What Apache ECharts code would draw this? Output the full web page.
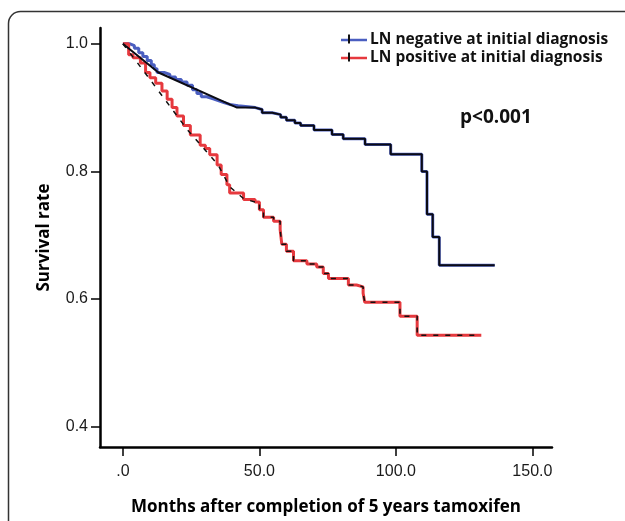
<!DOCTYPE html>
<html>
<head>
<meta charset="utf-8">
<script src="https://cdn.jsdelivr.net/npm/echarts@6/dist/echarts.min.js"></script>
<style>
html,body{margin:0;padding:0;background:#fff;}
#c{width:625px;height:521px;}
</style>
</head>
<body>
<div id="c"></div>
<script>
// ---- data ----
const seriesNames = ['LN negative at initial diagnosis', 'LN positive at initial diagnosis'];
// Kaplan-Meier steps: [months, survival after drop]
const negSteps = [[0,1.0],[2.6,0.997],[4.2,0.993],[5.8,0.986],[7.3,0.980],[8.9,0.974],[10.4,0.967],[11.5,0.961],[12.5,0.955],[15.1,0.952],[17.2,0.948],[19.3,0.944],[21.4,0.940],[23.5,0.935],[25.5,0.928],[27.1,0.922],[28.7,0.917],[30.7,0.914],[32.8,0.911],[34.9,0.908],[37.0,0.905],[39.1,0.903],[42.2,0.900],[48.5,0.897],[51.0,0.892],[54.7,0.889],[57.8,0.885],[59.9,0.880],[63.0,0.876],[65.1,0.872],[70.0,0.865],[76.6,0.858],[80.7,0.851],[88.7,0.842],[98.1,0.827],[109.5,0.800],[111.4,0.733],[113.5,0.697],[115.9,0.653],[136.2,0.653]];
const posSteps = [[0,1.0],[2.1,0.983],[3.7,0.978],[6.4,0.970],[8.3,0.955],[9.9,0.947],[12.0,0.938],[14.3,0.926],[16.2,0.913],[18.0,0.900],[19.8,0.887],[22.2,0.872],[24.7,0.857],[28.3,0.841],[30.2,0.836],[31.8,0.826],[34.5,0.810],[36.0,0.795],[38.1,0.779],[39.1,0.766],[44.2,0.756],[48.4,0.752],[50.0,0.740],[51.5,0.728],[55.2,0.722],[57.6,0.709],[58.2,0.686],[59.9,0.675],[62.5,0.660],[67.4,0.655],[71.0,0.650],[73.4,0.640],[75.3,0.632],[82.6,0.622],[85.6,0.619],[88.0,0.609],[88.6,0.595],[101.5,0.573],[107.8,0.543],[131.3,0.543]];
// dark overlay (censor marks) early chords
const negChord = [[0,1.0],[13.0,0.955],[41.8,0.900]];
const negChordEnd = 42.2;
const posChord = [[0,1.0],[8.9,0.950],[23.5,0.866],[34.9,0.810],[39.1,0.776],[44.3,0.757]];
const posChordEnd = 48.4;
const xTickValues = [0,50,100,150];
const xTickLabels = ['.0','50.0','100.0','150.0'];
const yTickValues = [0.4,0.6,0.8,1.0];
const yTickLabels = ['0.4','0.6','0.8','1.0'];
const pText = 'p<0.001';
const xTitle = 'Months after completion of 5 years tamoxifen';
const yTitle = 'Survival rate';

function stepify(pts){
  const out = [];
  pts.forEach((p,i)=>{
    if(i>0) out.push([p[0], pts[i-1][1]]);
    out.push([p[0], p[1]]);
  });
  return out;
}
const negDark = negChord.concat(stepify(negSteps.filter(p=>p[0]>=negChordEnd)));
const posDark = posChord.concat(stepify(posSteps.filter(p=>p[0]>=posChordEnd)));

const BLUE = '#4a5ec0', RED = '#e6393e';
const chart = echarts.init(document.getElementById('c'));
const font = 'Liberation Sans, Arial, sans-serif';
const boldFont = 'Open Sans, Noto Sans, sans-serif';
chart.setOption({
  animation:false,
  backgroundColor:'#fff',
  grid:{left:100,right:73,top:28,bottom:69,containLabel:false},
  xAxis:{
    type:'value', min:-8.4, max:157.2,
    axisLine:{onZero:false,lineStyle:{color:'#000',width:2.5}},
    axisTick:{show:true,customValues:xTickValues,length:9,lineStyle:{color:'#000',width:1.5}},
    axisLabel:{customValues:xTickValues,margin:17,color:'#1a1a1a',fontFamily:font,fontSize:16,
      formatter:(v)=>xTickLabels[xTickValues.indexOf(v)]},
    splitLine:{show:false},
    name:xTitle,nameLocation:'middle',nameGap:52,
    nameTextStyle:{fontFamily:boldFont,fontWeight:'bold',fontSize:17,color:'#000'}
  },
  yAxis:{
    type:'value', min:0.368, max:1.0248,
    axisLine:{onZero:false,lineStyle:{color:'#000',width:2.5}},
    axisTick:{show:true,customValues:yTickValues,length:9,lineStyle:{color:'#000',width:1.5}},
    axisLabel:{customValues:yTickValues,margin:12,color:'#1a1a1a',fontFamily:font,fontSize:16,
      formatter:(v)=>yTickLabels[yTickValues.indexOf(Math.round(v*10)/10)]},
    splitLine:{show:false},
    name:yTitle,nameLocation:'middle',nameGap:47,nameRotate:90,
    nameTextStyle:{fontFamily:boldFont,fontWeight:'bold',fontSize:17,color:'#000'}
  },
  legend:{
    orient:'vertical', left:336, top:27, itemWidth:26, itemHeight:10, itemGap:2,
    icon:'path://M0,4 L26,4 L26,6.5 L0,6.5 Z',
    textStyle:{fontFamily:boldFont,fontWeight:'bold',fontSize:15.5,lineHeight:16,color:'#111',padding:[0,0,0,-2]},
    data:[seriesNames[0],seriesNames[1]]
  },
  graphic:[
    {type:'rect',shape:{x:8.5,y:11.5,width:700,height:600,r:12},style:{fill:'none',stroke:'#333',lineWidth:1.5},silent:true,z:-1},
    {type:'rect',shape:{x:348,y:34.5,width:2,height:9},style:{fill:'#111'},silent:true,z:10},
    {type:'rect',shape:{x:348,y:52.5,width:2,height:9},style:{fill:'#111'},silent:true,z:10},
    {type:'text',left:460,top:108,style:{text:pText,fontFamily:boldFont,fontWeight:'bold',fontSize:19,fill:'#111'}}
  ],
  series:[
    {name:seriesNames[0],type:'line',step:'end',data:negSteps,symbol:'none',lineStyle:{color:BLUE,width:3},itemStyle:{color:BLUE},z:2},
    {name:'negDark',type:'line',data:negDark,symbol:'none',lineStyle:{color:'#0b0b14',width:2},z:3},
    {name:seriesNames[1],type:'line',step:'end',data:posSteps,symbol:'none',lineStyle:{color:RED,width:3},itemStyle:{color:RED},z:2},
    {name:'posDark',type:'line',data:posDark,symbol:'none',lineStyle:{color:'#111',width:1.5,type:[5,7]},z:3}
  ]
});
</script>
</body>
</html>
